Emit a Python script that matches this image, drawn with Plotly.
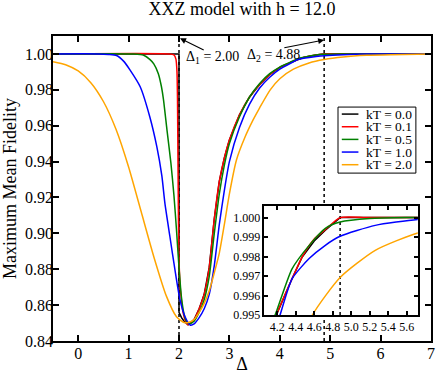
import plotly.graph_objects as go

# Maximum mean fidelity vs Delta, one series per temperature
kT_labels = ["kT = 0.0", "kT = 0.1", "kT = 0.5", "kT = 1.0", "kT = 2.0"]
colors = ["black", "red", "green", "blue", "orange"]

d_k00 = [-0.5, 2.0, 2.0, 2.05, 2.1, 2.18, 2.3, 2.4, 2.5, 2.6, 2.7, 2.8, 2.9, 3.0, 3.2, 3.4,
         3.6, 3.8, 4.0, 4.19, 4.36, 4.47, 4.6, 4.72, 4.88, 7.0]
f_k00 = [1.0, 1.0, 0.856, 0.853, 0.851, 0.849, 0.852, 0.858, 0.866, 0.881, 0.908, 0.929, 0.942, 0.952,
         0.966, 0.976, 0.983, 0.9885, 0.9925, 0.995, 0.99686, 0.99798, 0.9988, 0.99935, 1.0, 1.0]

d_k01 = [-0.5, 1.8, 1.9, 1.94, 1.96, 1.97, 1.98, 1.99, 2.0, 2.03, 2.08, 2.13, 2.18, 2.3, 2.4, 2.5,
         2.6, 2.7, 2.8, 2.9, 3.0, 3.2, 3.4, 3.6, 3.8, 4.0, 4.19, 4.36, 4.47, 4.6, 4.72, 4.88, 5.2, 7.0]
f_k01 = [1.0, 1.0, 0.9995, 0.997, 0.99, 0.975, 0.94, 0.905, 0.885, 0.868, 0.856, 0.851, 0.849, 0.852,
         0.858, 0.866, 0.881, 0.908, 0.929, 0.942, 0.952, 0.966, 0.976, 0.983, 0.9885, 0.9925, 0.995,
         0.99686, 0.99798, 0.9989, 0.99938, 1.0, 1.0, 1.0]

d_k05 = [-0.5, 1.1, 1.3, 1.42, 1.5, 1.59, 1.65, 1.69, 1.76, 1.84, 1.9, 1.95, 2.0, 2.05, 2.1, 2.15,
         2.2, 2.3, 2.4, 2.5, 2.6, 2.7, 2.8, 2.9, 3.0, 3.2, 3.4, 3.6, 3.8, 4.0, 4.2, 4.36, 4.55, 4.72,
         4.88, 5.2, 5.6, 7.0]
f_k05 = [1.0, 1.0, 0.9993, 0.997, 0.9945, 0.989, 0.982, 0.975, 0.958, 0.939, 0.921, 0.902, 0.881,
         0.864, 0.855, 0.8508, 0.8495, 0.851, 0.856, 0.863, 0.876, 0.900, 0.922, 0.938, 0.950, 0.965,
         0.976, 0.9835, 0.989, 0.9927, 0.9953, 0.99737, 0.9986, 0.99945, 0.99977, 0.99995, 1.0, 1.0]

d_k10 = [-0.5, 0.4, 0.6, 0.76, 0.9, 1.03, 1.23, 1.42, 1.56, 1.66, 1.72, 1.82, 1.92, 2.02, 2.12, 2.22,
         2.3, 2.4, 2.5, 2.6, 2.7, 2.8, 2.9, 3.0, 3.2, 3.4, 3.6, 3.8, 4.0, 4.23, 4.36, 4.545, 4.72,
         4.88, 5.26, 5.72, 6.3, 7.0]
f_k10 = [1.0, 1.0, 0.9997, 0.9991, 0.996, 0.991, 0.9817, 0.965, 0.9483, 0.932, 0.9168, 0.8981,
         0.8796, 0.8629, 0.8535, 0.8489, 0.8495, 0.853, 0.858, 0.866, 0.882, 0.905, 0.924, 0.940,
         0.959, 0.972, 0.981, 0.987, 0.9915, 0.995, 0.99686, 0.9979, 0.99858, 0.99904, 0.9996,
         0.9999, 0.99998, 1.0]

d_k20 = [-0.5, -0.25, 0.0, 0.25, 0.5, 0.75, 1.0, 1.25, 1.5, 1.75, 1.95, 2.1, 2.2, 2.3, 2.4, 2.5,
         2.6, 2.7, 2.8, 2.9, 3.0, 3.14, 3.3, 3.47, 3.6, 3.81, 4.0, 4.27, 4.58, 4.88, 5.26, 5.72,
         6.2, 7.0]
f_k20 = [0.9957, 0.994, 0.9905, 0.984, 0.9735, 0.958, 0.937, 0.912, 0.887, 0.865, 0.8535, 0.8503,
         0.8505, 0.852, 0.856, 0.861, 0.868, 0.878, 0.889, 0.905, 0.922, 0.9409, 0.953, 0.9632,
         0.970, 0.980, 0.9862, 0.9915, 0.995, 0.99693, 0.99832, 0.99921, 0.9996, 0.9999]

series_d = [d_k00, d_k01, d_k05, d_k10, d_k20]
series_f = [f_k00, f_k01, f_k05, f_k10, f_k20]

delta_marks = [2.0, 4.88]
x_ticks = [0, 1, 2, 3, 4, 5, 6, 7]
y_ticks = [0.84, 0.86, 0.88, 0.90, 0.92, 0.94, 0.96, 0.98, 1.00]
inset_x_ticks = [4.2, 4.4, 4.6, 4.8, 5.0, 5.2, 5.4, 5.6]
inset_y_ticks = [0.995, 0.996, 0.997, 0.998, 0.999, 1.000]

serif = "Liberation Serif, Times New Roman, serif"

fig = go.Figure()

# dotted markers for the two critical Delta values (main plot)
for dm in delta_marks:
    fig.add_trace(go.Scatter(x=[dm, dm], y=[0.84, 1.01], mode="lines",
                             line=dict(color="black", width=1.5, dash="dot"),
                             showlegend=False, hoverinfo="skip"))

for name, c, d, f in zip(kT_labels, colors, series_d, series_f):
    shape = "linear" if c == "black" else "spline"
    fig.add_trace(go.Scatter(x=d, y=f, mode="lines", name=name, showlegend=False,
                             line=dict(color=c, width=1.5, shape=shape, smoothing=0.6)))

# inset
fig.add_trace(go.Scatter(x=[delta_marks[1]] * 2, y=[0.995, 1.0006], mode="lines",
                         line=dict(color="black", width=1.5, dash="dot"),
                         xaxis="x2", yaxis="y2", showlegend=False, hoverinfo="skip"))
for name, c, d, f in zip(kT_labels, colors, series_d, series_f):
    shape = "linear" if c == "black" else "spline"
    fig.add_trace(go.Scatter(x=d, y=f, mode="lines", name=name, showlegend=False,
                             line=dict(color=c, width=1.5, shape=shape, smoothing=0.6),
                             xaxis="x2", yaxis="y2"))

axis_common = dict(showline=True, linecolor="black", linewidth=1.5, mirror="ticks",
                   ticks="inside", tickcolor="black", tickwidth=1.5, showgrid=False,
                   zeroline=False, automargin=False)

fig.update_layout(
    width=436, height=374,
    margin=dict(l=53, r=5, t=36, b=33),
    paper_bgcolor="white", plot_bgcolor="white",
    font=dict(family=serif, color="black", size=16),
    title=dict(text="XXZ model with h = 12.0", x=0.5, xref="paper", y=0.978,
               yanchor="middle", font=dict(size=18)),
    xaxis=dict(axis_common, domain=[0, 1], range=[-0.5, 7], tickvals=x_ticks,
               ticklen=6, tickfont=dict(size=16), ticklabelstandoff=-3,
               title=dict(text="Δ", font=dict(size=18), standoff=0)),
    yaxis=dict(axis_common, domain=[0, 1], range=[0.84, 1.01], tickvals=y_ticks,
               tickformat=".2f", ticklen=6, tickfont=dict(size=16), ticklabelstandoff=-5,
               title=dict(text="Maximum Mean Fidelity", font=dict(size=18), standoff=4)),
    xaxis2=dict(axis_common, anchor="y2", domain=[0.559, 0.965], range=[4.06, 5.72],
                tickvals=inset_x_ticks, tickformat=".1f", ticklen=4, tickangle=0,
                tickfont=dict(size=12)),
    yaxis2=dict(axis_common, anchor="x2", domain=[0.085, 0.443], range=[0.995, 1.0006],
                tickvals=inset_y_ticks, tickformat=".3f", ticklen=4,
                tickfont=dict(size=12)),
    showlegend=False,
)

# legend box drawn by hand so it stays as compact as the original
leg_x0, leg_x1, leg_top, leg_step = 0.754, 0.960, 0.767, 0.0415
fig.add_shape(type="rect", xref="paper", yref="paper", x0=leg_x0, x1=leg_x1,
              y0=leg_top - 5 * leg_step - 0.009, y1=leg_top,
              line=dict(color="black", width=1), fillcolor="white", layer="above")
for i, (name, c) in enumerate(zip(kT_labels, colors)):
    yy = leg_top - 0.023 - i * leg_step
    fig.add_shape(type="line", xref="paper", yref="paper", x0=0.764, x1=0.808,
                  y0=yy, y1=yy, line=dict(color=c, width=1.5), layer="above")
    fig.add_annotation(x=0.823, y=yy, xref="paper", yref="paper", xanchor="left",
                       yanchor="middle", text=name, showarrow=False, font=dict(size=13.5))

# annotations for the two critical points
fig.add_annotation(x=2.02, y=1.0087, ax=2.52, ay=1.0018, xref="x", yref="y",
                   axref="x", ayref="y", text="", showarrow=True, arrowhead=2,
                   arrowsize=1, arrowwidth=1.2, arrowcolor="black")
fig.add_annotation(x=4.88, y=1.0078, ax=4.06, ay=1.0033, xref="x", yref="y",
                   axref="x", ayref="y", text="", showarrow=True, arrowhead=2,
                   arrowsize=1, arrowwidth=1.2, arrowcolor="black")
fig.add_annotation(x=2.67, y=0.9978, xref="x", yref="y", showarrow=False,
                   text="Δ<sub>1</sub> = 2.00", font=dict(size=14))
fig.add_annotation(x=3.87, y=0.9994, xref="x", yref="y", showarrow=False,
                   text="Δ<sub>2</sub> = 4.88", font=dict(size=14))

fig.write_html("out.html", config={"displayModeBar": False},
               post_script="document.body.style.margin='0';")
